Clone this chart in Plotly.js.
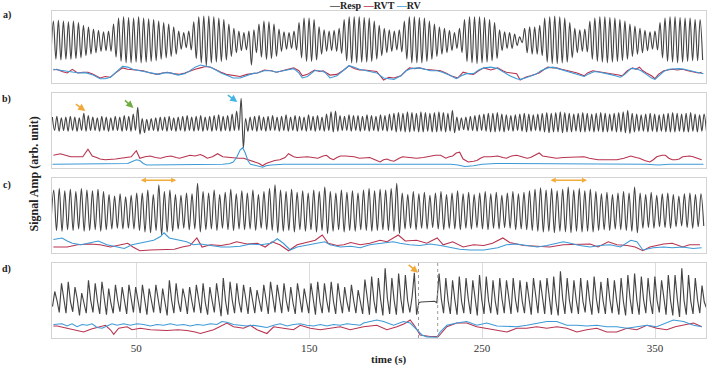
<!DOCTYPE html>
<html><head><meta charset="utf-8">
<script src="https://cdn.plot.ly/plotly-3.0.1.min.js"></script>
<style>html,body{margin:0;padding:0;background:#fff}#chart{width:709px;height:366px}</style>
</head><body><div id="chart"></div>
<script>
// ---------------- DATA ----------------
const tickVals = [50, 150, 250, 350];
const tickText = ['50', '150', '250', '350'];
const seriesNames = ['Resp', 'RVT', 'RV'];
const panelLabels = ['a)', 'b)', 'c)', 'd)'];

// respiration: alternating extrema sampled on a regular grid (start, step in s)
const respA_start = 0.55, respA_step = 1.45;
const respA = [35,
86,33,87,32,86,33,85,33,86,34,84,35,80,38,78,40,75,42,73,44,71,45,72,44,82,36,90,30,92,28,91,28,90,29,92,28,90,29,89,30,88,31,86,33,84,35,82,37,78,40,
72,47,70,49,72,46,85,34,92,28,93,24,93,28,92,29,90,30,88,32,82,37,76,42,72,45,70,46,72,25,74,42,82,36,86,33,85,34,82,37,75,44,71,47,70,48,72,46,
84,35,90,30,90,30,88,32,78,40,74,44,72,45,73,44,76,41,88,31,92,28,92,28,92,29,91,29,90,30,86,33,80,38,76,42,74,44,72,46,74,43,86,33,92,28,92,28,
91,28,90,30,86,33,82,37,78,40,76,42,73,45,70,48,76,42,88,30,92,28,92,27,92,28,91,29,88,31,84,34,74,45,71,48,70,48,68,52,64,56,76,42,78,40,78,40,
80,38,90,29,92,27,93,27,92,28,90,29,84,35,76,42,74,44,75,43,86,33,90,30,92,29,92,28,91,29,90,30,88,31,86,33,82,37,79,40,76,42,73,45,71,47,72,46,
84,35,90,30,92,29,92,28,91,29,90,30,90,31,88,31,88,32];

const respB_start = 1.4, respB_step = 1.3;
const respB = [
68,50,69,49,67,50,68,49,69,50,68,49,67,50,73,49,70,50,
68,50,67,49,69,50,68,49,67,50,69,50,68,49,70,50,69,49,72,50,81,45,66,47,65,50,
66,50,67,49,68,50,68,49,69,50,67,49,68,50,69,49,70,50,68,49,69,50,70,49,68,50,69,49,70,50,71,49,69,50,70,49,72,50,
76,50,93,27,66,49,
68,50,69,49,70,50,68,49,69,50,70,50,68,49,69,50,71,49,68,50,70,49,69,50,68,49,71,50,69,49,70,50,68,49,72,50,75,48,76,49,70,50,69,50,71,49,70,50,
70,49,69,50,71,49,70,50,69,49,71,50,70,49,72,50,
73,48,74,49,73,48,75,48,74,49,73,48,75,48,74,49,73,48,74,48,75,49,74,48,73,49,77,47,
68,50,67,51,68,50,69,50,70,49,71,50,72,49,73,48,
73,48,74,49,72,48,71,50,70,49,71,50,72,49,73,48,72,49,71,50,72,49,
73,48,74,47,73,48,74,48,75,47,74,48,73,48,72,49,73,48,74,48,73,49,72,48,73,49,74,48,73,48,72,49,73,48,74,48,75,47,77,46,
73,48,72,49,71,49,72,48,73,49,72,48,71,49,72,48,73,48,74,48,73,49,72,48,73,48,74,49,72,48,71,49,72,50];

const respC_start = 0.6, respC_step = 1.6;
const respC = [40,
84,30,86,29,83,31,85,30,82,32,86,29,84,30,83,31,85,29,82,31,
78,32,76,33,79,32,75,33,77,32,80,30,
80,28,84,27,78,30,91,24,82,28,84,29,
78,32,77,33,80,31,79,32,93,28,
82,31,80,32,84,30,78,33,81,31,85,30,79,32,83,31,80,32,84,30,78,33,82,31,86,30,91,27,
84,29,82,30,85,28,81,31,83,29,80,31,84,28,82,30,88,26,
82,29,80,31,84,28,81,30,83,29,80,31,84,30,86,29,83,30,85,31,84,30,86,29,93,26,
80,32,78,33,82,31,79,33,81,32,77,34,80,32,82,31,78,33,80,32,83,31,79,33,81,32,78,34,80,32,82,31,79,33,81,32,77,34,80,33,82,31,79,32,81,31,83,30,
85,29,87,28,84,29,86,27,83,29,85,28,88,27,84,29,86,28,83,29,85,28,82,30,
79,31,81,30,78,32,80,31,82,30,80,29,88,27,
80,33,78,34,81,33,77,35,79,34,80,33,78,35,76,36,79,34,80,33,78,35,79,36];

// panel d: trough, peak, shoulder per breath
const respD_start = 1.5, respD_step = 1.3;
const respD = [
42,62,50,34,73,50,33,75,48,35,68,52,30,60,47,33,77,50,34,73,49,32,75,51,31,66,46,33,71,50,
35,68,48,32,71,52,34,68,49,33,71,50,31,66,47,34,71,51,33,66,49,30,77,50,33,73,48,35,66,52,
32,68,49,34,71,50,33,73,47,31,68,50,34,73,51,29,80,49,31,75,50,33,73,48,34,71,52,32,68,49,
33,64,50,35,71,48,32,75,51,34,71,49,33,73,50,35,68,47,32,73,50,34,66,49,33,73,51,31,75,48,
33,73,50,34,75,49,32,73,51,33,68,48,35,71,50,33,64,49,32,78,52,31,82,50,33,80,51,30,93,53,
32,80,50,31,86,52,33,84,50,34,55,87,31,47,48,48,49,48,48,48,49,47,86,52,33,80,50,32,77,51,
31,82,49,33,80,52,32,77,50,30,84,51,32,82,50,33,77,49,31,80,52,33,77,50,32,80,51,34,77,49,
33,75,50,31,80,52,33,77,50,32,80,51,31,82,49,30,89,52,32,80,50,33,77,51,32,80,49,34,77,50,
31,82,52,33,75,49,32,80,51,33,77,50,31,80,49,30,84,52,32,86,50,31,82,51,33,80,49,32,82,50,
34,77,51,31,84,50,30,84,52,28,93,50,31,84,49,32,80,51,33,70,48,40];

// RVT / RV (time s, value)
const rvtA_t = [2,4,7,10,13,16,19,22,25,29,32,35,38,42,45,48,51,54,58,62,65,68,71,75,78,81,84,87,90,93,96,99,102,106,110,114,117,120,124,128,131,134,137,141,144,146,149,153,156,158,162,166,170,173,176,179,182,185,189,193,196,199,203,206,208,211,214,217,220,223,226,229,232,236,239,242,245,248,251,255,259,262,264,267,270,272,275,278,281,283,286,288,291,293,296,299,302,305,309,311,314,317,320,323,326,329,331,334,337,339,341,343,345,348,350,352,355,358,360,363,366,369,372,375,377];
const rvtA = [18,19,16,14,19,14,15,15,12,7,9,8,14,21,19,18,17,17,14,12,14,15,13,12,14,17,19,21,23,22,18,15,12,10,9,12,13,14,18,17,15,17,18,21,17,10,12,18,16,17,11,12,18,24,20,18,18,17,16,4,8,7,10,17,21,20,21,19,18,18,17,14,10,7,15,13,12,17,21,18,21,17,15,14,13,4,8,10,12,14,19,22,21,21,19,17,15,14,10,14,17,16,15,14,12,11,10,17,21,19,22,17,14,10,6,12,17,18,19,18,19,17,15,14,15];
const rvA_t = [2,5,8,11,14,17,21,25,29,32,35,38,42,45,48,52,56,60,63,66,70,74,78,81,84,87,90,93,96,99,103,106,110,114,117,120,124,128,131,135,138,141,144,146,149,153,156,159,162,166,170,173,176,179,183,186,189,193,196,199,203,206,209,213,217,220,224,227,231,235,238,241,245,248,251,255,259,262,266,270,272,275,278,281,284,288,291,294,297,300,303,306,309,312,315,318,321,324,327,330,333,336,339,342,345,348,350,352,355,358,361,364,367,370,373,376,378];
const rvA = [19,18,16,15,15,14,14,11,6,6,8,14,23,22,19,17,15,13,12,14,14,11,13,17,22,25,24,22,18,14,10,7,7,11,13,14,17,17,15,17,19,20,14,7,9,17,17,15,7,10,18,24,22,19,17,16,14,7,6,5,10,17,20,21,19,17,17,15,11,6,10,13,13,18,21,22,20,16,10,6,5,7,9,12,17,21,22,20,18,16,14,12,9,13,16,15,14,12,10,8,13,20,20,17,12,7,5,9,16,19,20,20,19,17,16,14,13];

const rvtB_t = [2,6,9,12,16,19,22,24.5,27,29,32,35,38,41,44,47,50,52,55,58,61,64,67,70,73,75,78,81,84,87,89,91,94,97,100,103,106,109,112,115,118,121,123,125,127.5,130,133,136,138,141,143,146,149,152,155,158,160,162,164,166,168,171,174,176,179,182,185,188,191,193,195,197,199,202,204,208,212,216,220,223,226,229,231,233,235,237,239,242,245,247,249,251,255,259,262,264,267,270,273,276,278,280,283,285,287,290,293,297,301,305,309,312,314,317,320,324,328,332,336,339,341,344,347,349,351,354,356,358,360,362,364,366,368,370,372,375,377];
const rvtB = [17,19,17,15,15,15,25,16,14,12,11,11,12,13,14,15,23,13,15,16,14,13,15,16,14,13,15,17,16,18,16,13,15,19,15,14,13,13,13,11,8,6,3,6,8,10,11,14,19,15,14,15,15,14,13,16,17,13,11,14,16,16,16,15,13,14,14,11,8,11,12,10,9,13,15,14,13,14,16,17,17,13,15,16,20,21,12,8,9,10,13,15,15,16,14,13,16,17,15,13,14,16,20,16,15,14,13,14,14,15,15,13,12,11,11,11,11,13,16,14,13,10,8,11,15,17,17,13,11,11,12,15,16,16,15,13,11];
const rvB_t = [1.5,10,20,30,40,45,47,50,52,54,56,60,70,80,90,100,104,106,108,110,111.5,113,114.5,116,118,121,123,125,128,135,145,155,165,175,185,195,205,215,225,232,236,240,245,250,258,265,275,285,295,305,315,325,335,345,352,358,365,372,378];
const rvB = [5,5,5,5,5,6,8,11,10,6,4,4,5,5,5,5,6,8,14,24,27,20,10,5,4,2,1,3,4,5,5,5,5,5,5,6,5,5,5,5,4,2,3,5,6,6,5,5,6,5,5,5,5,5,4,5,5,5,5];

const rvtC_t = [2,4,10,16,23,29,35,41,45,48,52,58,66,72,76.5,81,85,88,93,99,104,108,114,120,124.5,128.5,133,138,143,149,153.5,157.5,161,166,170,174,179.5,185,191,195,201.5,205.5,212,218,224,227.5,233,239,245,251,256,262,266,270,274,282,289,297,305,312.5,317,323,328,334,338.5,343,347,355,360,366,370,376];
const rvtC = [8,8,8,11,12,11,8,11,13,8,3,4,5,5,8,10,20,8,11,10,12,15,12,13,8,15,11,3,11,14,17,24,13,10,11,14,11,13,17,15,24,16,17,13,20,11,15,8,11,10,13,20,14,12,10,9,8,11,11,12,8,15,11,10,8,3,8,12,13,8,11,11];
const rvC_t = [2,4,7,10,13,18,23,28,33,38,43,47.5,52,56,60,64,66,69,74,79,83,87,93,99,104,110,116,122,128,131.5,135,139,143,149,155,159,162,168,174,179.5,185,191,198.5,202.5,208,214,220,226,231.5,237,243,251,259,264,270,276,282,287.5,293,297,301,306.5,312.5,318,324,330,336,339.5,343,349,355,360,366,372,377];
const rvC = [18,19,20,16,13,11,13,16,11,8,6,11,13,15,17,22,27,20,17,15,11,12,10,8,8,9,12,11,13,19,13,4,8,11,13,15,11,8,9,7,11,13,15,13,11,10,12,10,7,5,4,4,7,11,12,10,8,10,13,15,13,10,8,10,11,8,17,15,4,7,8,7,8,6,7];

const rvtD_t = [2,4.2,9.9,15,19.5,24,29.2,32.1,35,36.9,39.8,44.6,47.5,52.3,58.1,63,67.7,74,79.3,84,87,94.7,99,102.4,106.2,112,115.9,119.8,125.5,129.4,135.1,140.9,144.8,150.6,156.4,162.1,167.9,173.7,178.5,181.4,189.1,194.9,200.7,205,208.4,211.3,214.1,219.9,224.7,229.6,235.3,241.1,246.9,252.7,258.5,264.3,270,275.8,281.6,287.4,293.2,299,304.8,310.5,316.3,322.1,327.9,333.7,339.5,345.3,351,356.8,361.7,366.5,372.3,377.1];
const rvtD = [16,16,13,10,8,12,15,17,11,5,13,15,11,13,11,10,10,11,10,8,6,11,16,20,15,13,17,11,6,15,13,11,17,13,11,13,15,11,13,15,17,11,15,19,24,15,4,2,2,15,20,20,15,13,11,8,13,13,15,13,15,13,8,11,13,8,8,13,11,17,13,11,15,17,20,15];
const rvD_t = [2,4.2,7,9.9,12.8,15.7,18.6,21.5,24.4,27.3,30.2,33,35.9,38.8,42.7,46.5,50.4,54.2,58.1,61.9,65.8,69.6,73.5,77.4,81.2,85.1,88.9,92.8,96.6,99.5,102.4,106.2,110.1,113.9,117.8,121.7,125.5,129.4,133.2,137.1,140.9,144.8,148.6,152.5,156.4,160.2,164.1,167.9,171.8,175.6,179.5,181.4,189.1,193,198.8,204.5,208.4,212.3,215.2,218,223.8,225.7,229.6,235.3,241.1,246.9,252.7,258.5,264.3,270,275.8,281.6,287.4,293.2,299,304.8,310.5,316.3,322.1,327.9,333.7,339.5,345.3,351,356.8,360.6,366.5,372.3,377.1];
const rvD = [18,18,19,16,19,15,18,17,19,14,13,16,19,17,19,17,19,18,16,18,17,19,17,18,16,18,17,19,18,22,21,18,17,16,17,15,14,17,19,16,18,19,17,16,18,16,18,17,19,18,17,20,24,22,17,22,20,11,4,1.5,1,8,17,20,22,17,20,16,15,15,17,19,22,22,17,17,16,17,15,15,13,15,17,15,20,24,22,17,15];

const flatBounds = [213.2, 224.3];

// ---------------- CHART ----------------
const FONT = '"Liberation Serif", "Times New Roman", serif';
const C_RESP = '#454545', C_RVT = '#b8334f', C_RV = '#3d9ad6';
const panels = [
  {xa: 'x', ya: 'y', resp: respA, r0: respA_start, dr: respA_step, rvt: [rvtA_t, rvtA], rv: [rvA_t, rvA], shape: 'spline'},
  {xa: 'x2', ya: 'y2', resp: respB, r0: respB_start, dr: respB_step, rvt: [rvtB_t, rvtB], rv: [rvB_t, rvB], shape: 'spline'},
  {xa: 'x3', ya: 'y3', resp: respC, r0: respC_start, dr: respC_step, rvt: [rvtC_t, rvtC], rv: [rvC_t, rvC], shape: 'spline'},
  {xa: 'x4', ya: 'y4', resp: respD, r0: respD_start, dr: respD_step, rvt: [rvtD_t, rvtD], rv: [rvD_t, rvD], shape: 'linear'}
];
const traces = [];
panels.forEach((p, i) => {
  traces.push({type: 'scatter', mode: 'lines', name: seriesNames[0], xaxis: p.xa, yaxis: p.ya,
    x0: p.r0, dx: p.dr, y: p.resp, line: {color: C_RESP, width: 1.15, shape: p.shape, smoothing: 1}, showlegend: false, hoverinfo: 'skip'});
  traces.push({type: 'scatter', mode: 'lines', name: seriesNames[1], xaxis: p.xa, yaxis: p.ya,
    x: p.rvt[0], y: p.rvt[1], line: {color: C_RVT, width: 1.1}, showlegend: false, hoverinfo: 'skip'});
  traces.push({type: 'scatter', mode: 'lines', name: seriesNames[2], xaxis: p.xa, yaxis: p.ya,
    x: p.rv[0], y: p.rv[1], line: {color: C_RV, width: 1.1}, showlegend: false, hoverinfo: 'skip'});
});

const L = 52, R = 706, T = 11, B = 338, W = R - L, H = B - T;
const px = v => (v - L) / W;
const py = v => (B - v) / H;
const domains = [[py(83), 1], [py(168), py(93)], [py(253), py(178)], [0, py(263)]];
const xrange = [1.2, 379.5];
const lineCol = '#d3d3d3';

const layout = {
  width: 709, height: 366,
  margin: {l: L, r: 709 - R, t: T, b: 366 - B, pad: 0},
  paper_bgcolor: '#ffffff', plot_bgcolor: '#ffffff',
  showlegend: false,
  font: {family: FONT, size: 11, color: '#333'},
  annotations: [], shapes: []
};
['', '2', '3', '4'].forEach((s, i) => {
  const bottom = i === 3;
  layout['xaxis' + s] = {anchor: 'y' + s, domain: [0, 1], range: xrange, fixedrange: true,
    showline: true, mirror: true, linecolor: lineCol, linewidth: 1, zeroline: false,
    showgrid: bottom, gridcolor: '#dddddd', gridwidth: 1,
    tickmode: 'array', tickvals: tickVals, ticktext: tickText, ticks: '',
    showticklabels: bottom, tickfont: {family: FONT, size: 11, color: '#333'}};
  layout['yaxis' + s] = {anchor: 'x' + s, domain: domains[i], range: [0, 100], fixedrange: true,
    showline: true, mirror: true, linecolor: lineCol, linewidth: 1, zeroline: false,
    showgrid: false, showticklabels: false, ticks: ''};
});

// legend text
layout.annotations.push({xref: 'paper', yref: 'paper', x: px(375), y: py(5), xanchor: 'center', yanchor: 'middle', showarrow: false,
  text: '<b><span style="color:' + C_RESP + '">—</span>' + seriesNames[0] + ' <span style="color:' + C_RVT + '">—</span>' + seriesNames[1] +
        ' <span style="color:' + C_RV + '">—</span>' + seriesNames[2] + '</b>',
  font: {family: FONT, size: 10, color: '#222'}});
// panel labels
[15, 99, 184.5, 269].forEach((yy, i) => layout.annotations.push({xref: 'paper', yref: 'paper', x: px(6.5), y: py(yy),
  xanchor: 'center', yanchor: 'middle', showarrow: false, text: '<b>' + panelLabels[i] + '</b>', font: {family: FONT, size: 10, color: '#222'}}));
// axis titles
layout.annotations.push({xref: 'paper', yref: 'paper', x: px(33), y: py(174.5), textangle: -90, xanchor: 'center', yanchor: 'middle',
  showarrow: false, text: '<b>Signal Amp (arb. unit)</b>', font: {family: FONT, size: 12, color: '#222'}});
layout.annotations.push({xref: 'paper', yref: 'paper', x: px(388), y: py(359), xanchor: 'center', yanchor: 'middle',
  showarrow: false, text: '<b>time (s)</b>', font: {family: FONT, size: 11, color: '#222'}});
// event arrows
const arrow = (xr, yr, x, y, ax, ay, col) => ({xref: xr, yref: yr, x: x, y: y, ax: ax, ay: ay, text: '', showarrow: true,
  arrowhead: 2, arrowsize: 0.9, arrowwidth: 1.6, arrowcolor: col});
layout.annotations.push(arrow('x2', 'y2', 20.5, 76, -11, -8, '#f2a93b'));
layout.annotations.push(arrow('x2', 'y2', 48.3, 80, -10, -9, '#6fae3f'));
layout.annotations.push(arrow('x2', 'y2', 108.4, 88, -11, -8, '#45b4e3'));
layout.annotations.push(arrow('x4', 'y4', 213, 87, -11, -9, '#f2a93b'));
[[51.7, 73.1], [288.7, 310.7]].forEach(r => layout.annotations.push({xref: 'x3', yref: 'y3', axref: 'x3', ayref: 'y3',
  x: r[1], y: 97, ax: r[0], ay: 97, text: '', showarrow: true, arrowside: 'end+start', arrowhead: 2, startarrowhead: 2,
  arrowsize: 0.8, startarrowsize: 0.8, arrowwidth: 1.3, arrowcolor: '#f2ac3c'}));
// dotted markers around the breath hold in d
flatBounds.forEach(t => layout.shapes.push({type: 'line', xref: 'x4', yref: 'y4', x0: t, x1: t, y0: 0, y1: 100,
  line: {color: '#9a9a9a', width: 1, dash: 'dot'}}));

Plotly.newPlot('chart', traces, layout, {staticPlot: true, displayModeBar: false});
</script></body></html>
